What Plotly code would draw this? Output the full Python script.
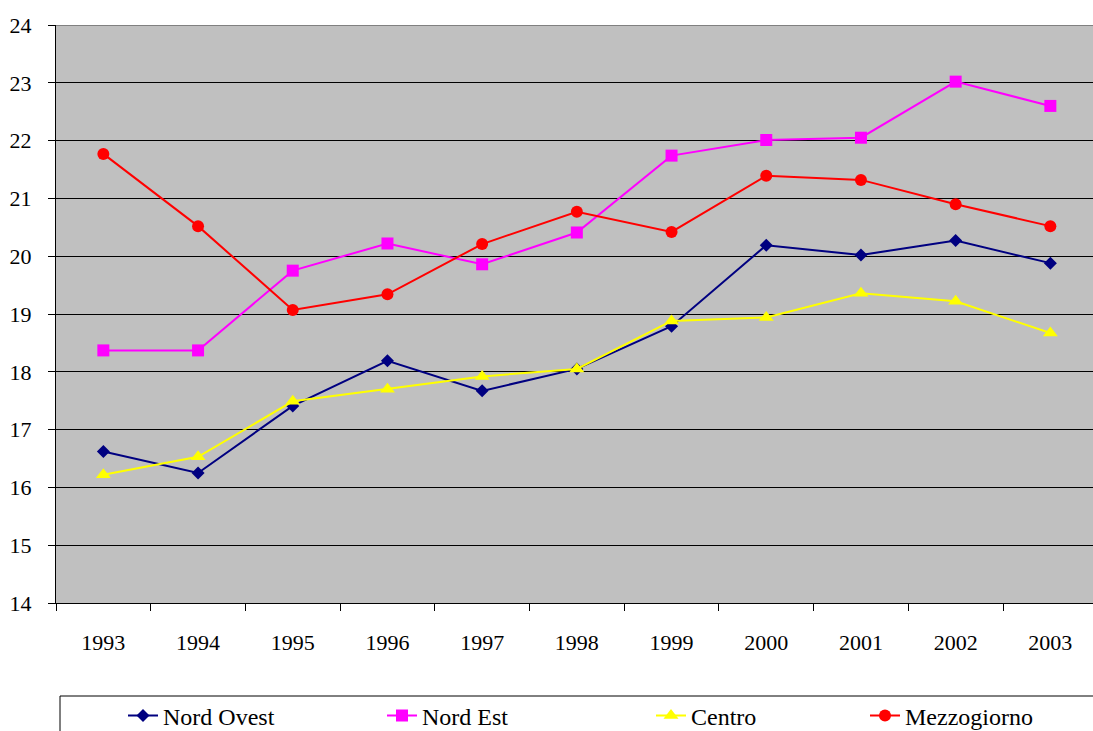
import plotly.graph_objects as go

# Years on the category axis
years = ["1993", "1994", "1995", "1996", "1997", "1998",
         "1999", "2000", "2001", "2002", "2003"]

# Regional series
nord_ovest = [16.62, 16.25, 17.41, 18.19, 17.67, 18.05, 18.79, 20.19, 20.02, 20.27, 19.88]
nord_est = [18.37, 18.37, 19.75, 20.22, 19.86, 20.41, 21.74, 22.01, 22.05, 23.02, 22.60]
centro = [16.22, 16.53, 17.49, 17.70, 17.92, 18.05, 18.88, 18.94, 19.36, 19.22, 18.67]
mezzogiorno = [21.77, 20.52, 19.07, 19.34, 20.21, 20.77, 20.42, 21.39, 21.32, 20.90, 20.52]

y_ticks = list(range(14, 25))

W, H = 1093, 731
FONT = "'Liberation Serif', 'Times New Roman', Times, serif"

series = [
    ("Nord Ovest", nord_ovest, "#000080", "diamond", 10, "legend"),
    ("Nord Est", nord_est, "#FF00FF", "square", 12, "legend2"),
    ("Centro", centro, "#FFFF00", "triangle-up", 13, "legend3"),
    ("Mezzogiorno", mezzogiorno, "#FF0000", "circle", 12, "legend4"),
]

fig = go.Figure()
for name, vals, color, symbol, size, leg in series:
    fig.add_trace(go.Scatter(
        x=years, y=vals, name=name, mode="lines+markers",
        line=dict(color=color, width=2),
        marker=dict(symbol=symbol, size=size, color=color),
        legend=leg,
    ))

# Legend entries laid out in one framed row under the chart
legend_text_x = [163, 422, 691, 905]
leg_y = (H - 716) / H
legend_common = dict(
    orientation="h", xref="container", yref="container",
    xanchor="left", yanchor="middle", bgcolor="rgba(0,0,0,0)",
    borderwidth=0, font=dict(family=FONT, size=24, color="#000000"),
)
legend_layouts = {}
for i, tx in enumerate(legend_text_x):
    key = "legend" if i == 0 else f"legend{i + 1}"
    legend_layouts[key] = dict(legend_common, x=(tx - 40) / W, y=leg_y)

plot_left, plot_right = 56, W
plot_top, plot_bottom = 25, 603
cat_w = 94.7
x_max = -0.5 + (plot_right - plot_left) / cat_w

fig.update_layout(
    width=W, height=H,
    margin=dict(l=plot_left, r=W - plot_right, t=plot_top, b=H - plot_bottom, pad=0),
    paper_bgcolor="#FFFFFF",
    plot_bgcolor="#C0C0C0",
    font=dict(family=FONT, size=22, color="#000000"),
    showlegend=True,
    **legend_layouts,
)

fig.update_xaxes(
    type="category", range=[-0.5, x_max],
    tickson="boundaries", ticks="outside", ticklen=7, tickcolor="#000000",
    showline=True, linecolor="#000000", linewidth=1,
    showgrid=False, zeroline=False,
    tickfont=dict(family=FONT, size=22, color="#000000"),
    ticklabelstandoff=20,
)
fig.update_yaxes(
    range=[14, 24], tickvals=y_ticks, ticktext=[str(v) for v in y_ticks],
    ticks="outside", ticklen=7, tickcolor="#000000",
    showline=True, linecolor="#000000", linewidth=1,
    showgrid=True, gridcolor="#000000", gridwidth=1, zeroline=False,
    tickfont=dict(family=FONT, size=22, color="#000000"),
    ticklabelstandoff=12,
)

# Grey top edge of the plot area
fig.add_shape(type="line", xref="paper", yref="y", x0=0, x1=1, y0=24, y1=24,
              line=dict(color="#808080", width=2), layer="above")

# Frame around the legend row, running off the bottom and right of the page
px_w = plot_right - plot_left
px_h = plot_bottom - plot_top
fig.add_shape(type="rect", xref="paper", yref="paper",
              x0=(60 - plot_left) / px_w, x1=1.05,
              y0=(plot_bottom - 760) / px_h, y1=(plot_bottom - 696) / px_h,
              line=dict(color="#000000", width=1), fillcolor="rgba(0,0,0,0)")

fig.write_html("out.html")
